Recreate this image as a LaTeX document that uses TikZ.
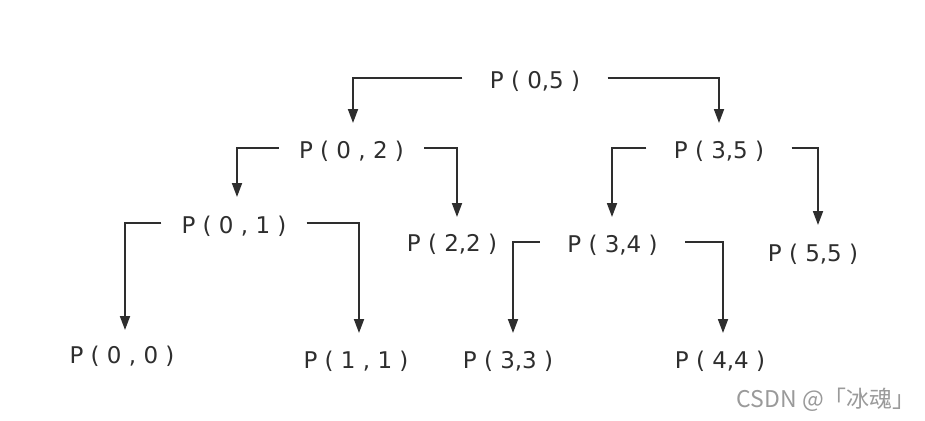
\documentclass[tikz,border=0pt]{standalone}
\usepackage{fontspec}
\setmainfont{DejaVu Sans}
\newfontfamily\cjkwm{Noto Sans CJK SC}
\usetikzlibrary{arrows.meta}
\definecolor{ink}{HTML}{2E2E2E}
\definecolor{wm}{HTML}{9A9A9A}
\tikzset{
  pnode/.style={inner sep=0pt, minimum width=145pt, text height=23pt, text depth=3pt, text=ink, font=\fontsize{23}{27}\selectfont},
  leaf/.style={inner sep=0pt, text=ink, font=\fontsize{23}{27}\selectfont},
  arr/.style={draw=ink, line width=1.8pt, -{Triangle[width=10pt,length=14pt]}}
}
\begin{document}
\begin{tikzpicture}[x=1pt,y=-1pt]
\useasboundingbox (0,0) rectangle (925,420);
\fill[white] (0,0) rectangle (925,420);
% internal nodes
\node[pnode] (n05) at (535,78) {P ( 0,5 )};
\node[pnode] (n02) at (351.5,148) {P ( 0 , 2 )};
\node[pnode] (n35) at (719,148) {P ( 3,5 )};
\node[pnode] (n01) at (234,223) {P ( 0 , 1 )};
\node[pnode] (n34) at (612.5,242) {P ( 3,4 )};
% leaves
\node[leaf] (n22) at (452,244) {P ( 2,2 )};
\node[leaf] (n55) at (813,254) {P ( 5,5 )};
\node[leaf] (n00) at (122,356) {P ( 0 , 0 )};
\node[leaf] (n11) at (356,361) {P ( 1 , 1 )};
\node[leaf] (n33) at (508,361) {P ( 3,3 )};
\node[leaf] (n44) at (720,361) {P ( 4,4 )};
% arrow tips
\coordinate (t02) at (353,123);
\coordinate (t35) at (719,123);
\coordinate (t01) at (237,197);
\coordinate (t22) at (457,217);
\coordinate (t34) at (612,217);
\coordinate (t55) at (818,225);
\coordinate (t00) at (125,330);
\coordinate (t11) at (359,333);
\coordinate (t33) at (513,333);
\coordinate (t44) at (723,333);
% connectors
\draw[arr] (n05.west) -| (t02);
\draw[arr] (n05.east) -| (t35);
\draw[arr] (n02.west) -| (t01);
\draw[arr] (n02.east) -| (t22);
\draw[arr] (n35.west) -| (t34);
\draw[arr] (n35.east) -| (t55);
\draw[arr] (n01.west) -| (t00);
\draw[arr] (n01.east) -| (t11);
\draw[arr] (n34.west) -| (t33);
\draw[arr] (n34.east) -| (t44);
% watermark
\node[inner sep=0pt, text=wm, font=\cjkwm\fontsize{23}{27}\selectfont, anchor=east] (wmk) at (916,400) {CSDN @「冰魂」};
\end{tikzpicture}
\end{document}
